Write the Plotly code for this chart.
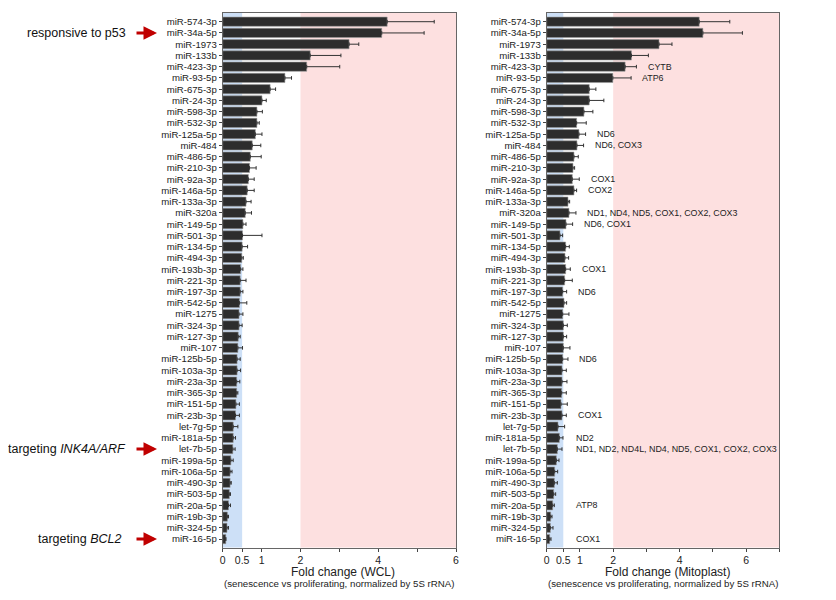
import plotly.graph_objects as go

mirnas = ["miR-574-3p", "miR-34a-5p", "miR-1973", "miR-133b", "miR-423-3p", "miR-93-5p",
          "miR-675-3p", "miR-24-3p", "miR-598-3p", "miR-532-3p", "miR-125a-5p", "miR-484",
          "miR-486-5p", "miR-210-3p", "miR-92a-3p", "miR-146a-5p", "miR-133a-3p", "miR-320a",
          "miR-149-5p", "miR-501-3p", "miR-134-5p", "miR-494-3p", "miR-193b-3p", "miR-221-3p",
          "miR-197-3p", "miR-542-5p", "miR-1275", "miR-324-3p", "miR-127-3p", "miR-107",
          "miR-125b-5p", "miR-103a-3p", "miR-23a-3p", "miR-365-3p", "miR-151-5p", "miR-23b-3p",
          "let-7g-5p", "miR-181a-5p", "let-7b-5p", "miR-199a-5p", "miR-106a-5p", "miR-490-3p",
          "miR-503-5p", "miR-20a-5p", "miR-19b-3p", "miR-324-5p", "miR-16-5p"]

wcl_fold = [4.23, 4.09, 3.25, 2.25, 2.16, 1.60, 1.22, 1.01, 0.88, 0.88, 0.84, 0.76,
            0.71, 0.69, 0.66, 0.63, 0.60, 0.58, 0.52, 0.51, 0.50, 0.49, 0.46, 0.45,
            0.45, 0.43, 0.42, 0.42, 0.40, 0.39, 0.37, 0.37, 0.36, 0.36, 0.34, 0.33,
            0.27, 0.27, 0.26, 0.21, 0.19, 0.19, 0.17, 0.15, 0.12, 0.11, 0.08]
wcl_err = [1.21, 1.09, 0.25, 0.79, 0.85, 0.17, 0.14, 0.11, 0.14, 0.06, 0.17, 0.22,
           0.28, 0.17, 0.15, 0.18, 0.13, 0.16, 0.08, 0.50, 0.14, 0.04, 0.06, 0.15,
           0.07, 0.19, 0.10, 0.08, 0.05, 0.12, 0.08, 0.09, 0.08, 0.03, 0.09, 0.10,
           0.12, 0.06, 0.06, 0.06, 0.05, 0.03, 0.03, 0.05, 0.03, 0.04, 0.00]

mito_fold = [4.59, 4.70, 3.38, 2.55, 2.36, 1.99, 1.28, 1.28, 1.12, 0.90, 0.97, 0.91,
             0.82, 0.79, 0.77, 0.82, 0.64, 0.67, 0.58, 0.40, 0.57, 0.55, 0.57, 0.54,
             0.48, 0.52, 0.48, 0.50, 0.50, 0.50, 0.48, 0.46, 0.46, 0.45, 0.43, 0.46,
             0.34, 0.38, 0.32, 0.29, 0.24, 0.23, 0.21, 0.18, 0.12, 0.11, 0.09]
mito_err = [0.92, 1.19, 0.39, 0.51, 0.34, 0.55, 0.20, 0.44, 0.27, 0.29, 0.20, 0.20,
            0.13, 0.05, 0.21, 0.08, 0.05, 0.21, 0.20, 0.08, 0.11, 0.11, 0.14, 0.23,
            0.12, 0.08, 0.19, 0.12, 0.10, 0.20, 0.16, 0.13, 0.15, 0.14, 0.19, 0.13,
            0.20, 0.11, 0.14, 0.08, 0.09, 0.09, 0.06, 0.05, 0.04, 0.08, 0.04]

mito_targets = ["", "", "", "", "CYTB", "ATP6", "", "", "", "", "ND6", "ND6, COX3",
                "", "", "COX1", "COX2", "", "ND1, ND4, ND5, COX1, COX2, COX3",
                "ND6, COX1", "", "", "", "COX1", "", "ND6", "", "", "", "", "",
                "ND6", "", "", "", "", "COX1", "", "ND2",
                "ND1, ND2, ND4L, ND4, ND5, COX1, COX2, COX3", "", "", "", "", "ATP8",
                "", "", "COX1"]

side_notes = [("responsive to p53", "miR-34a-5p"),
              ("targeting <i>INK4A/ARF</i>", "let-7b-5p"),
              ("targeting <i>BCL2</i>", "miR-16-5p")]

x_tickvals = [0, 0.5, 1, 2, 3, 4, 5, 6]
x_ticktext = ["0", "0.5", "1", "2", "", "4", "", "6"]

FONT = "Arial, Liberation Sans, Helvetica, sans-serif"
OFF = 8  # default page body margin
W, H = 836 - OFF, 600 - OFF
BAR = "#2d2d2d"


def px(x):
    return (x - OFF) / W


def py(y):
    return 1 - (y - OFF) / H


fig = go.Figure()
for fold, err, xa, ya in [(wcl_fold, wcl_err, "x", "y"), (mito_fold, mito_err, "x2", "y2")]:
    fig.add_trace(go.Bar(
        x=fold, y=mirnas, orientation="h", xaxis=xa, yaxis=ya,
        marker=dict(color=BAR, line=dict(color="#9a9a9a", width=0.6)),
        width=0.82,
        error_x=dict(type="data", array=err, arrayminus=[0] * len(err), symmetric=False,
                     color="#333", thickness=1, width=1.8),
        showlegend=False))

ydom = [py(547.5), py(12.7)]
xdom1 = [px(222.7), px(456)]
xdom2 = [px(546.7), px(779.3)]
yrange = [46.75, -0.8]

axis_common = dict(showline=True, linecolor="#666", linewidth=1, mirror=True,
                   ticks="outside", ticklen=3, tickcolor="#444", showgrid=False, zeroline=False,
                   automargin=False)

fig.update_layout(
    width=W, height=H, margin=dict(l=0, r=0, t=0, b=0, autoexpand=False),
    paper_bgcolor="white", plot_bgcolor="white",
    font=dict(family=FONT, size=10, color="#222"),
    bargap=0.2,
    xaxis=dict(domain=xdom1, range=[0, 6], tickvals=x_tickvals, ticktext=x_ticktext, anchor="y",
               tickfont=dict(size=10.5, color="#222", family=FONT), **axis_common),
    yaxis=dict(domain=ydom, type="category", categoryorder="array", categoryarray=mirnas,
               tickmode="array", tickvals=mirnas, ticktext=mirnas,
               range=yrange, anchor="x", tickfont=dict(size=9.6, color="#222", family=FONT), **axis_common),
    xaxis2=dict(domain=xdom2, range=[0, 7], tickvals=x_tickvals + [7], ticktext=x_ticktext + [""],
                anchor="y2", tickfont=dict(size=10.5, color="#222", family=FONT), **axis_common),
    yaxis2=dict(domain=ydom, type="category", categoryorder="array", categoryarray=mirnas,
                tickmode="array", tickvals=mirnas, ticktext=mirnas,
                range=yrange, anchor="x2", tickfont=dict(size=9.6, color="#222", family=FONT), **axis_common),
)

# background bands
for xr, yr, xmax in [("x", "y", 6), ("x2", "y2", 7)]:
    fig.add_shape(type="rect", xref=xr, yref=yr + " domain", x0=0, x1=0.5, y0=0, y1=1,
                  fillcolor="#cde0f7", line=dict(width=0), layer="below")
    fig.add_shape(type="rect", xref=xr, yref=yr + " domain", x0=2, x1=xmax, y0=0, y1=1,
                  fillcolor="#fde0e0", line=dict(width=0), layer="below")

# mitochondrial target labels
for name, val, err, txt in zip(mirnas, mito_fold, mito_err, mito_targets):
    if txt:
        fig.add_annotation(x=max(val + err + 0.28, 0.82), y=name, xref="x2", yref="y2",
                           text=txt, showarrow=False, xanchor="left", yanchor="middle",
                           font=dict(size=8.9, color="#222", family=FONT))

# axis titles
for dom, t1 in [(xdom1, "Fold change (WCL)"), (xdom2, "Fold change (Mitoplast)")]:
    cx = (dom[0] + dom[1]) / 2
    fig.add_annotation(x=cx + 4 / W, y=py(572), xref="paper", yref="paper", text=t1, showarrow=False,
                       xanchor="center", yanchor="middle", font=dict(size=12, color="#222", family=FONT))
    fig.add_annotation(x=cx, y=py(583.5), xref="paper", yref="paper",
                       text="(senescence vs proliferating, normalized by 5S rRNA)", showarrow=False,
                       xanchor="center", yanchor="middle", font=dict(size=9.7, color="#222", family=FONT))

# side notes with red arrows
for i, (txt, row) in enumerate(side_notes):
    right_edge = 123 if i == 2 else 128
    fig.add_annotation(x=px(right_edge), y=row, xref="paper", yref="y", text=txt, showarrow=False,
                       xanchor="right", yanchor="middle", font=dict(size=12.5, color="#111", family=FONT))
    fig.add_annotation(x=px(157), y=row, xref="paper", yref="y", text="", showarrow=True,
                       ax=-22, ay=0, axref="pixel", ayref="pixel",
                       arrowhead=2, arrowsize=0.9, arrowwidth=3, arrowcolor="#c00000")

fig.write_html("out.html")
